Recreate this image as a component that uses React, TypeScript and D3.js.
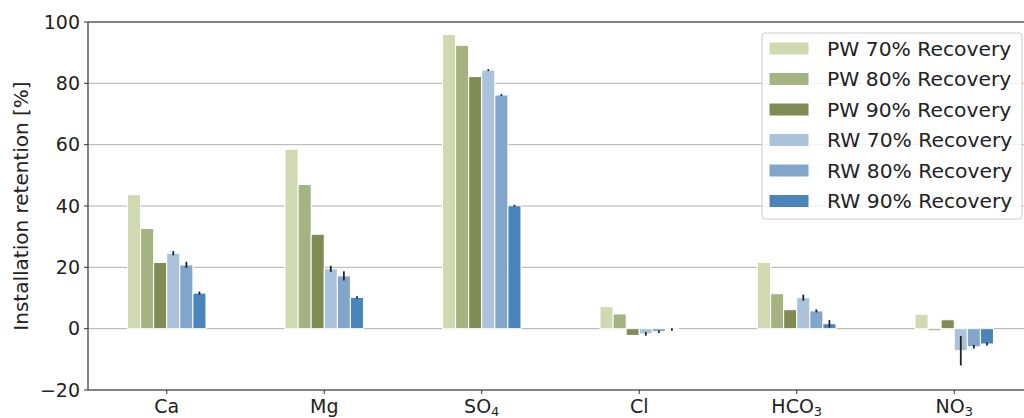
import React from 'react';
import * as d3 from 'd3';

// ion names: [base, subscript]
const ions: [string, string][] = [['Ca', ''], ['Mg', ''], ['SO', '4'], ['Cl', ''], ['HCO', '3'], ['NO', '3']];

const seriesNames = [
  'PW 70% Recovery',
  'PW 80% Recovery',
  'PW 90% Recovery',
  'RW 70% Recovery',
  'RW 80% Recovery',
  'RW 90% Recovery',
];
const seriesColors = ['#d0d9b0', '#a5b282', '#818c55', '#aac3db', '#82a6cb', '#4a84ba'];

// retention values per series, ordered like ions
const pw70 = [43.7, 58.5, 95.9, 7.2, 21.6, 4.7];
const pw80 = [32.7, 47.0, 92.4, 4.8, 11.4, -0.7];
const pw90 = [21.6, 30.8, 82.2, -2.2, 6.2, 2.9];
const rw70 = [24.6, 19.5, 84.3, -1.7, 10.1, -7.2];
const rw80 = [20.8, 17.2, 76.2, -1.0, 5.8, -5.9];
const rw90 = [11.6, 10.2, 40.1, -0.3, 1.6, -5.0];

// error bars (only the RW series have them)
const rw70Err = [0.7, 1.0, 0.3, 0.6, 1.0, 4.8];
const rw80Err = [1.0, 1.5, 0.3, 0.4, 0.5, 0.6];
const rw90Err = [0.5, 0.4, 0.3, 0.4, 1.2, 0.5];

const yTicks = [-20, 0, 20, 40, 60, 80, 100];

const allValues = [pw70, pw80, pw90, rw70, rw80, rw90];
const allErrs: (number[] | null)[] = [null, null, null, rw70Err, rw80Err, rw90Err];

export default function App() {
  const width = 1024;
  const height = 418;
  const margin = { top: 22, right: -9, bottom: 28, left: 88 };
  const font = '"DejaVu Sans", sans-serif';

  const x = d3.scaleLinear().domain([-0.5, ions.length - 0.5]).range([margin.left, width - margin.right]);
  const y = d3.scaleLinear().domain([-20, 100]).range([height - margin.bottom, margin.top]);
  const barW = 0.083;
  const bw = x(barW) - x(0);

  const legendX = 762;
  const legendY = 33;
  const rowH = 30.5;

  return (
    <svg
      width={width}
      height={height}
      style={{ position: 'absolute', left: 0, top: 0, background: '#fff' }}
      fontFamily={font}
    >
      {/* grid */}
      {yTicks.map(t => (
        <line key={'g' + t} x1={margin.left} x2={width} y1={y(t)} y2={y(t)} stroke="#b0b0b0" strokeWidth={1} />
      ))}

      {/* bars */}
      {allValues.map((vals, si) =>
        vals.map((v, ci) => {
          const cx = x(ci + (si - 2.5) * barW);
          return (
            <rect
              key={`b${si}-${ci}`}
              x={cx - bw / 2}
              y={Math.min(y(v), y(0))}
              width={bw}
              height={Math.abs(y(v) - y(0))}
              fill={seriesColors[si]}
              stroke="#fff"
              strokeWidth={1}
            />
          );
        })
      )}

      {/* error bars */}
      {allErrs.map((errs, si) =>
        errs
          ? errs.map((e, ci) => {
              const cx = x(ci + (si - 2.5) * barW);
              const v = allValues[si][ci];
              return (
                <line
                  key={`e${si}-${ci}`}
                  x1={cx}
                  x2={cx}
                  y1={y(v - e)}
                  y2={y(v + e)}
                  stroke="#222"
                  strokeWidth={1.8}
                />
              );
            })
          : null
      )}

      {/* spines */}
      <line x1={margin.left} x2={margin.left} y1={y(100)} y2={y(-20)} stroke="#333" strokeWidth={1.2} />
      <line x1={margin.left} x2={width} y1={y(100)} y2={y(100)} stroke="#333" strokeWidth={1.2} />
      <line x1={margin.left} x2={width} y1={y(-20)} y2={y(-20)} stroke="#333" strokeWidth={1.2} />

      {/* y ticks */}
      {yTicks.map(t => (
        <g key={'yt' + t}>
          <line x1={margin.left - 4} x2={margin.left} y1={y(t)} y2={y(t)} stroke="#333" strokeWidth={1} />
          <text x={margin.left - 8} y={y(t)} dy="0.35em" textAnchor="end" fontSize={19} fill="#222">
            {t < 0 ? '\u2212' + Math.abs(t) : t}
          </text>
        </g>
      ))}

      {/* x ticks */}
      {ions.map(([base, sub], i) => (
        <g key={'xt' + i}>
          <line x1={x(i)} x2={x(i)} y1={y(-20)} y2={y(-20) + 4} stroke="#333" strokeWidth={1} />
          <text x={x(i)} y={y(-20) + 23} textAnchor="middle" fontSize={19} fill="#222">
            {base}
            {sub ? (
              <tspan fontSize={13} dy={3}>
                {sub}
              </tspan>
            ) : null}
          </text>
        </g>
      ))}

      {/* y label */}
      <text
        transform={`translate(21,${(y(100) + y(-20)) / 2}) rotate(-90)`}
        textAnchor="middle"
        dy="0.35em"
        fontSize={20}
        fill="#222"
      >
        Installation retention [%]
      </text>

      {/* legend */}
      <rect
        x={legendX}
        y={legendY}
        width={260}
        height={186}
        rx={3}
        fill="#fff"
        fillOpacity={0.8}
        stroke="#cccccc"
        strokeWidth={1}
      />
      {seriesNames.map((name, i) => {
        const cy = legendY + 15.5 + i * rowH;
        return (
          <g key={'lg' + i}>
            <rect x={769} y={cy - 6.5} width={40} height={13} fill={seriesColors[i]} stroke="#fff" strokeWidth={1} />
            <text x={827} y={cy} dy="0.35em" fontSize={20.3} fill="#222">
              {name}
            </text>
          </g>
        );
      })}
    </svg>
  );
}
